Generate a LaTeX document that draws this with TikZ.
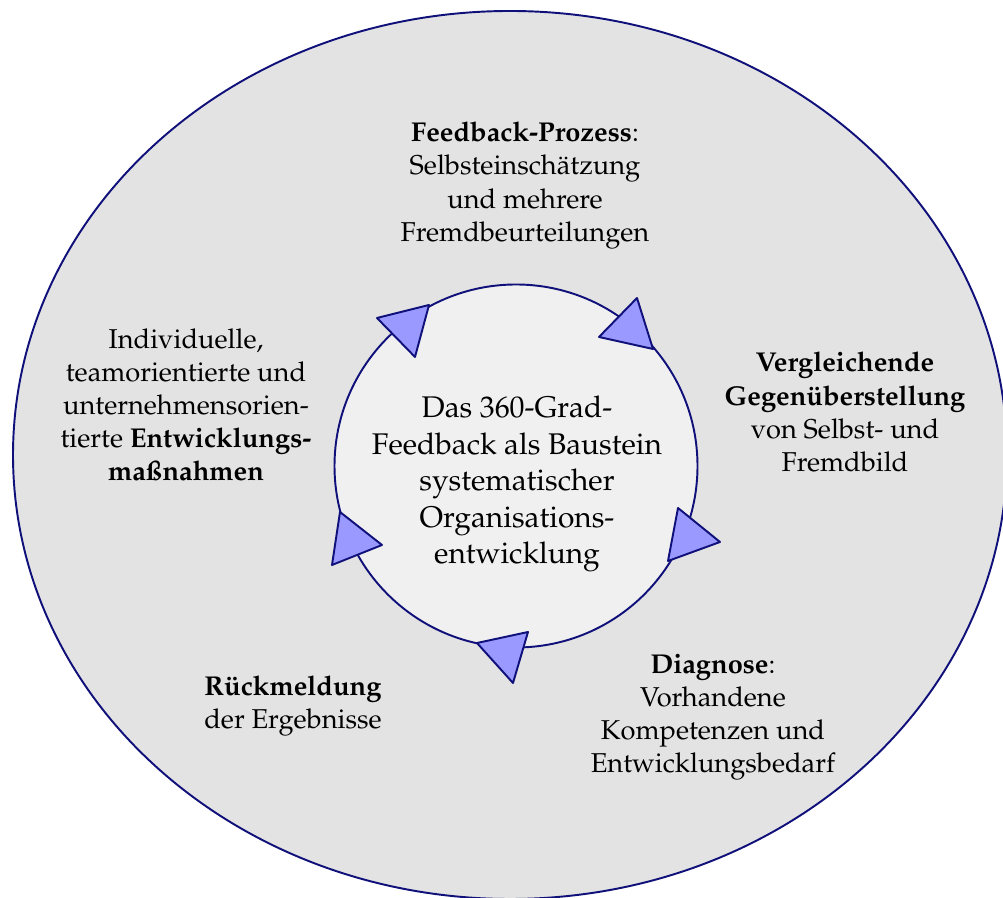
\documentclass[tikz,border=0pt]{standalone}
\usepackage[T1]{fontenc}
\usepackage{mathpazo}
\usepackage{xcolor}
\usepackage{tikz}
\usetikzlibrary{positioning,calc}

\definecolor{ringline}{HTML}{10107A}
\definecolor{outerfill}{HTML}{E3E3E3}
\definecolor{innerfill}{HTML}{F0F0F0}
\definecolor{tripfill}{HTML}{9999FF}

\begin{document}
\begin{tikzpicture}[
    txt/.style={align=center, inner sep=0pt, font=\fontsize{15.5}{18.8}\selectfont},
    core/.style={align=center, inner sep=0pt, font=\fontsize{17}{20.8}\selectfont},
    tri/.style={fill=tripfill, draw=ringline, line width=1.1pt, line join=round}
  ]
  \useasboundingbox (0,0) rectangle (20.06,17.96);

  % outer field and inner circle
  \draw[fill=outerfill, draw=ringline, line width=1.1pt] (10.2,8.86) ellipse [x radius=9.94, y radius=8.88];
  \draw[fill=innerfill, draw=ringline, line width=1.1pt] (10.32,8.64) circle [radius=3.63];

  % arrow heads along the circle
  \draw[tri] (7.54,11.60) -- (8.58,11.86) -- (8.30,10.82) -- cycle;
  \draw[tri] (12.74,12.00) -- (11.98,11.22) -- (13.06,10.98) -- cycle;
  \draw[tri] (13.56,7.80) -- (14.40,7.12) -- (13.36,6.74) -- cycle;
  \draw[tri] (9.54,5.10) -- (10.56,5.32) -- (10.26,4.30) -- cycle;
  \draw[tri] (6.80,7.72) -- (7.64,7.06) -- (6.64,6.66) -- cycle;

  \node[core] (kern) at (10.34,8.28) {Das 360-Grad-\\Feedback als Baustein\\systematischer\\Organisations-\\entwicklung};

  \node[txt] (prozess) at (10.50,14.25) {\textbf{Feedback-Prozess}:\\Selbsteinsch\"atzung\\und mehrere\\Fremdbeurteilungen};
  \node[txt] (vergleich) at (16.90,9.72) {\textbf{Vergleichende}\\\textbf{Gegen\"uberstellung}\\von Selbst- und\\Fremdbild};
  \node[txt] (diagnose) at (14.26,3.61) {\textbf{Diagnose}:\\Vorhandene\\Kompetenzen und\\Entwicklungsbedarf};
  \node[txt] (rueckmeldung) at (5.86,3.84) {\textbf{R\"uckmeldung}\\der Ergebnisse};
  \node[txt] (massnahmen) at (3.72,9.86) {Individuelle,\\teamorientierte und\\unternehmensorien-\\tierte \textbf{Entwicklungs-}\\\textbf{ma\ss nahmen}};
\end{tikzpicture}
\end{document}
